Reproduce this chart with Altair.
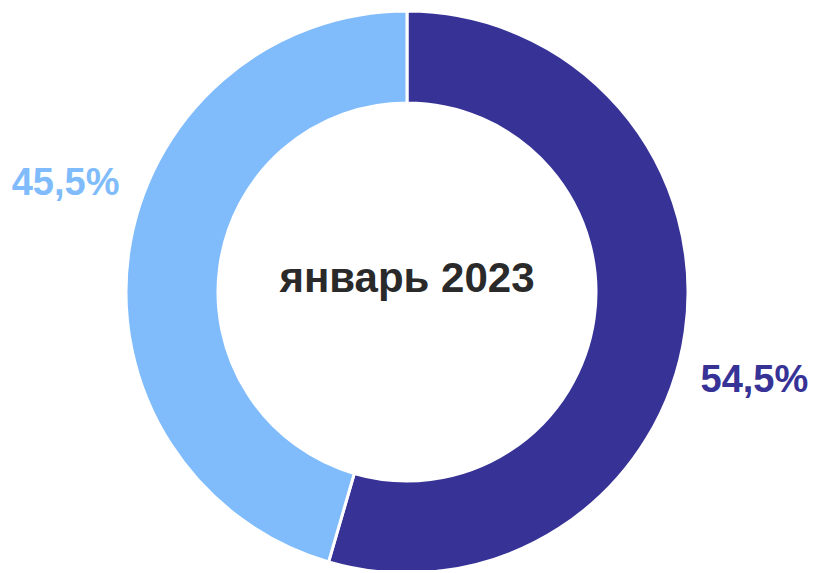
import altair as alt
import pandas as pd

categories = ["A", "B"]
values = [54.5, 45.5]
labels = ["54,5%", "45,5%"]
colors = ["#373296", "#80BCFC"]
title_text = "январь 2023"

df = pd.DataFrame({"cat": categories, "value": values, "label": labels, "ord": [0, 1]})

W, H = 790, 556

base = alt.Chart(df).encode(
    theta=alt.Theta("value:Q", stack=True),
    order=alt.Order("ord:Q"),
)

cscale = alt.Scale(domain=categories, range=colors)

arcs = base.mark_arc(outerRadius=281, innerRadius=189, stroke="white", strokeWidth=3).encode(
    color=alt.Color("cat:N", scale=cscale, legend=None)
)

lab1 = base.mark_text(radius=360, fontSize=38, fontWeight="bold", font="Liberation Sans", dx=-9, dy=38).encode(
    text="label:N",
    color=alt.Color("cat:N", scale=cscale, legend=None),
    opacity=alt.condition(alt.datum.cat == "A", alt.value(1), alt.value(0)),
)
lab2 = base.mark_text(radius=360, fontSize=38, fontWeight="bold", font="Liberation Sans", dx=15, dy=-57).encode(
    text="label:N",
    color=alt.Color("cat:N", scale=cscale, legend=None),
    opacity=alt.condition(alt.datum.cat == "B", alt.value(1), alt.value(0)),
)

center = alt.Chart(pd.DataFrame({"t": [title_text]})).mark_text(
    fontSize=42, fontWeight="bold", font="Liberation Sans", color="#2a2a2a"
).encode(text="t:N", x=alt.value(W / 2), y=alt.value(H / 2 - 13))

chart = alt.layer(arcs, lab1, lab2, center).properties(
    width=W, height=H, autosize=alt.AutoSizeParams(type="none"),
    padding={"left": 4, "top": 6, "right": 8, "bottom": 0},
).configure_view(stroke=None)

chart.save("out.html", embed_options={"renderer": "svg", "actions": False})
